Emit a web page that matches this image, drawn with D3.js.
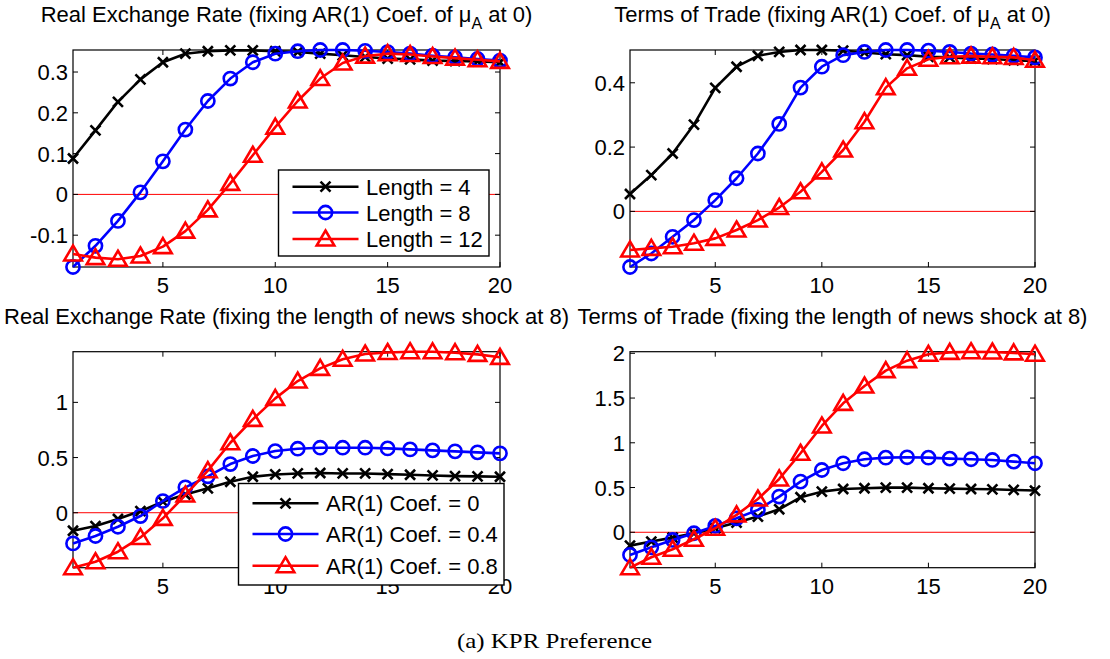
<!DOCTYPE html>
<html>
<head>
<meta charset="utf-8">
<script src="https://cdn.jsdelivr.net/npm/d3@7"></script>
<style>
  html, body { margin: 0; padding: 0; background: #fff; }
  svg { display: block; }
  .sans { font-family: "Liberation Sans", Arial, Helvetica, sans-serif; fill: #000; }
  .serif { font-family: "Liberation Serif", "Times New Roman", serif; fill: #000; }
</style>
</head>
<body>
<svg id="fig" width="1110" height="659"></svg>
<script>
// Quarters after the news shock
const periods = [1, 2, 3, 4, 5, 6, 7, 8, 9, 10, 11, 12, 13, 14, 15, 16, 17, 18, 19, 20];

// Real exchange rate, AR(1) coefficient of mu_A fixed at 0, by news length
const rerLen4  = [0.088, 0.157, 0.227, 0.282, 0.324, 0.345, 0.351, 0.353, 0.353, 0.351, 0.349, 0.345, 0.341, 0.337, 0.333, 0.331, 0.328, 0.327, 0.326, 0.324];
const rerLen8  = [-0.178, -0.126, -0.065, 0.005, 0.081, 0.159, 0.229, 0.284, 0.324, 0.345, 0.351, 0.354, 0.354, 0.352, 0.349, 0.345, 0.340, 0.336, 0.332, 0.328];
const rerLen12 = [-0.146, -0.155, -0.159, -0.151, -0.128, -0.090, -0.038, 0.027, 0.096, 0.165, 0.229, 0.284, 0.322, 0.339, 0.345, 0.343, 0.338, 0.334, 0.330, 0.326];

// Terms of trade, AR(1) coefficient of mu_A fixed at 0, by news length
const totLen4  = [0.054, 0.113, 0.180, 0.270, 0.384, 0.450, 0.484, 0.496, 0.502, 0.502, 0.500, 0.494, 0.489, 0.486, 0.481, 0.479, 0.476, 0.474, 0.470, 0.468];
const totLen8  = [-0.173, -0.131, -0.079, -0.027, 0.035, 0.103, 0.180, 0.272, 0.385, 0.450, 0.486, 0.496, 0.502, 0.502, 0.500, 0.496, 0.491, 0.488, 0.484, 0.479];
const totLen12 = [-0.120, -0.115, -0.110, -0.099, -0.084, -0.058, -0.027, 0.012, 0.061, 0.123, 0.191, 0.279, 0.385, 0.445, 0.473, 0.481, 0.483, 0.481, 0.479, 0.470];

// Real exchange rate, news length fixed at 8, by AR(1) coefficient
const rerAr0  = [-0.163, -0.121, -0.057, 0.015, 0.100, 0.165, 0.221, 0.281, 0.326, 0.347, 0.356, 0.360, 0.356, 0.356, 0.350, 0.344, 0.338, 0.332, 0.329, 0.326];
const rerAr04 = [-0.278, -0.211, -0.127, -0.030, 0.106, 0.230, 0.330, 0.441, 0.514, 0.559, 0.580, 0.589, 0.589, 0.589, 0.583, 0.574, 0.565, 0.556, 0.547, 0.538];
const rerAr08 = [-0.498, -0.444, -0.353, -0.224, -0.051, 0.160, 0.381, 0.634, 0.846, 1.036, 1.193, 1.308, 1.390, 1.438, 1.452, 1.459, 1.458, 1.450, 1.435, 1.408];

// Terms of trade, news length fixed at 8, by AR(1) coefficient
const totAr0  = [-0.149, -0.104, -0.060, -0.011, 0.045, 0.108, 0.175, 0.257, 0.391, 0.454, 0.484, 0.492, 0.499, 0.499, 0.492, 0.488, 0.484, 0.480, 0.473, 0.466];
const totAr04 = [-0.253, -0.168, -0.086, -0.011, 0.071, 0.156, 0.250, 0.399, 0.566, 0.696, 0.771, 0.816, 0.834, 0.838, 0.834, 0.823, 0.816, 0.808, 0.790, 0.771];
const totAr08 = [-0.396, -0.279, -0.190, -0.078, 0.045, 0.194, 0.372, 0.596, 0.883, 1.188, 1.441, 1.635, 1.806, 1.918, 1.989, 2.010, 2.018, 2.015, 2.005, 1.990];

// Series labels and tick values
const lengthLabels = ["Length = 4", "Length = 8", "Length = 12"];
const arLabels = ["AR(1) Coef. = 0", "AR(1) Coef. = 0.4", "AR(1) Coef. = 0.8"];
const xTicks = [5, 10, 15, 20];
const yTicksRerLen = [-0.1, 0, 0.1, 0.2, 0.3];
const yTicksTotLen = [0, 0.2, 0.4];
const yTicksRerAr = [0, 0.5, 1];
const yTicksTotAr = [0, 0.5, 1, 1.5, 2];
const caption = "(a) KPR Preference";

// Line style per series: colour and marker
const styles = [
  { color: "#000000", marker: "x" },
  { color: "#0000ff", marker: "o" },
  { color: "#ff0000", marker: "^" }
];

const panels = [
  { title: ["Real Exchange Rate (fixing AR(1) Coef. of ", " at 0)"], series: [rerLen4, rerLen8, rerLen12], yTicks: yTicksRerLen,
    box: { x0: 73, x1: 500, y0: 50, y1: 267 }, legend: lengthLabels,
    legendBox: { x: 278.5, y: 170, w: 210.5, h: 86, rows: [16.7, 42.5, 69], lx0: 14, lx1: 80, tx: 87.5 } },
  { title: ["Terms of Trade (fixing AR(1) Coef. of ", " at 0)"], series: [totLen4, totLen8, totLen12], yTicks: yTicksTotLen,
    box: { x0: 630, x1: 1035, y0: 50, y1: 267 }, legend: null },
  { title: ["Real Exchange Rate (fixing the length of news shock at 8)"], series: [rerAr0, rerAr04, rerAr08], yTicks: yTicksRerAr,
    box: { x0: 73, x1: 500, y0: 351.7, y1: 567.7 }, legend: arLabels,
    legendBox: { x: 238.5, y: 483.5, w: 265.5, h: 101.5, rows: [19.8, 50.5, 82.2], lx0: 14, lx1: 80, tx: 87.5 } },
  { title: ["Terms of Trade (fixing the length of news shock at 8)"], series: [totAr0, totAr04, totAr08], yTicks: yTicksTotAr,
    box: { x0: 630, x1: 1035, y0: 351.7, y1: 567.7 }, legend: null }
];

const svg = d3.select("#fig");
svg.append("rect").attr("width", 1110).attr("height", 659).attr("fill", "#fff");

const FONT = 22;
const TICK = 5;
const LW = 2.6;

function drawMarker(g, type, cx, cy, color) {
  if (type === "x") {
    const s = 5;
    g.append("path")
      .attr("d", `M${cx - s},${cy - s}L${cx + s},${cy + s}M${cx - s},${cy + s}L${cx + s},${cy - s}`)
      .attr("stroke", color).attr("stroke-width", LW).attr("fill", "none");
  } else if (type === "o") {
    g.append("circle").attr("cx", cx).attr("cy", cy).attr("r", 6.6)
      .attr("stroke", color).attr("stroke-width", LW).attr("fill", "none");
  } else {
    const hw = 8.8, top = 8.5, bot = 6.5;
    g.append("path")
      .attr("d", `M${cx},${cy - top}L${cx + hw},${cy + bot}L${cx - hw},${cy + bot}Z`)
      .attr("stroke", color).attr("stroke-width", LW).attr("fill", "none")
      .attr("stroke-linejoin", "miter");
  }
}

panels.forEach(p => {
  const b = p.box;
  const all = p.series.flat();
  const x = d3.scaleLinear().domain(d3.extent(periods)).range([b.x0, b.x1]);
  const y = d3.scaleLinear().domain(d3.extent(all)).range([b.y1, b.y0]);
  const g = svg.append("g");

  // zero reference line
  g.append("line")
    .attr("x1", b.x0).attr("x2", b.x1)
    .attr("y1", y(0)).attr("y2", y(0))
    .attr("stroke", "#ff0000").attr("stroke-width", 1);

  // axes box with inward ticks on all four sides
  g.append("rect")
    .attr("x", b.x0).attr("y", b.y0)
    .attr("width", b.x1 - b.x0).attr("height", b.y1 - b.y0)
    .attr("fill", "none").attr("stroke", "#000").attr("stroke-width", 1.2);

  xTicks.forEach(t => {
    const px = x(t);
    g.append("line").attr("x1", px).attr("x2", px).attr("y1", b.y1).attr("y2", b.y1 - TICK).attr("stroke", "#000");
    g.append("line").attr("x1", px).attr("x2", px).attr("y1", b.y0).attr("y2", b.y0 + TICK).attr("stroke", "#000");
    g.append("text").attr("class", "sans").attr("x", px).attr("y", b.y1 + 26)
      .attr("text-anchor", "middle").attr("font-size", FONT).text(String(t));
  });

  p.yTicks.forEach(t => {
    const py = y(t);
    g.append("line").attr("x1", b.x0).attr("x2", b.x0 + TICK).attr("y1", py).attr("y2", py).attr("stroke", "#000");
    g.append("line").attr("x1", b.x1).attr("x2", b.x1 - TICK).attr("y1", py).attr("y2", py).attr("stroke", "#000");
    g.append("text").attr("class", "sans").attr("x", b.x0 - 5).attr("y", py + 8)
      .attr("text-anchor", "end").attr("font-size", FONT).text(String(t));
  });

  // title, with the mu_A subscript where present
  const title = g.append("text").attr("class", "sans")
    .attr("x", (b.x0 + b.x1) / 2).attr("y", b.y0 - 28)
    .attr("text-anchor", "middle").attr("font-size", FONT);
  title.append("tspan").text(p.title[0]);
  if (p.title.length > 1) {
    title.append("tspan").text("\u03bc");
    title.append("tspan").attr("dy", 7).attr("font-size", 16).text("A");
    title.append("tspan").attr("dy", -7).text(p.title[1]);
  }

  // series lines, then markers on top
  const line = d3.line().x((d, i) => x(periods[i])).y(d => y(d));
  p.series.forEach((s, k) => {
    const st = styles[k];
    g.append("path").attr("d", line(s))
      .attr("fill", "none").attr("stroke", st.color).attr("stroke-width", LW)
      .attr("stroke-linejoin", "round");
    s.forEach((v, i) => drawMarker(g, st.marker, x(periods[i]), y(v), st.color));
  });

  // legend
  if (p.legend) {
    const L = p.legendBox;
    const lg = svg.append("g").attr("transform", `translate(${L.x},${L.y})`);
    lg.append("rect").attr("width", L.w).attr("height", L.h)
      .attr("fill", "#fff").attr("stroke", "#000").attr("stroke-width", 1.4);
    p.legend.forEach((lab, k) => {
      const st = styles[k];
      const ry = L.rows[k];
      lg.append("line").attr("x1", L.lx0).attr("x2", L.lx1).attr("y1", ry).attr("y2", ry)
        .attr("stroke", st.color).attr("stroke-width", LW);
      drawMarker(lg, st.marker, (L.lx0 + L.lx1) / 2, ry, st.color);
      lg.append("text").attr("class", "sans").attr("x", L.tx).attr("y", ry + 8)
        .attr("font-size", FONT).text(lab);
    });
  }
});

// sub-figure caption
svg.append("text").attr("class", "serif")
  .attr("x", 457).attr("y", 648)
  .attr("font-size", 21)
  .attr("textLength", 195).attr("lengthAdjust", "spacingAndGlyphs")
  .text(caption);
</script>
</body>
</html>
